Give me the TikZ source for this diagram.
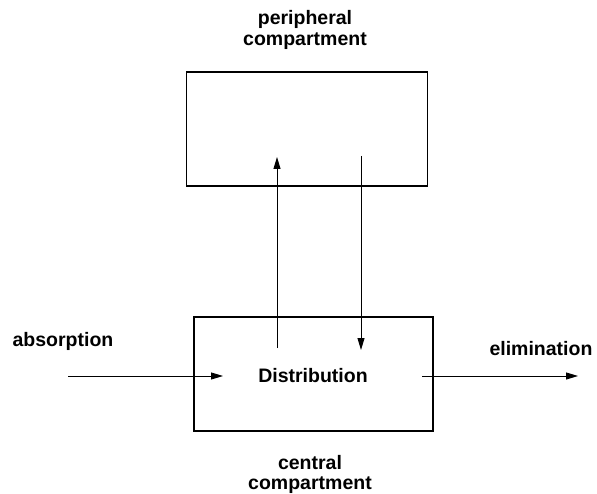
\documentclass[tikz,border=0pt]{standalone}
\usepackage{fontspec}
\setmainfont{Liberation Sans}
\usetikzlibrary{arrows.meta}
\begin{document}
\begin{tikzpicture}[x=1pt,y=-1pt,
  box/.style={draw,line width=1.1pt},
  lbl/.style={font=\bfseries\fontsize{19.5}{22}\selectfont,inner sep=0pt,align=center},
  arr/.style={line width=0.9pt,-{Triangle[length=12pt,width=7pt]}}]
\useasboundingbox (0,0) rectangle (597,494);
\node[box,minimum width=241pt,minimum height=114pt,inner sep=0pt] (per) at (307,129) {};
\node[box,minimum width=239pt,minimum height=114pt,inner sep=0pt] (cen) at (313.5,374) {};
\node[lbl] (dist) at (313,376) {Distribution};
\node[lbl] (pl1) at (305,19) {peripheral};
\node[lbl] (pl2) at (305,41) {compartment};
\node[lbl] (cl1) at (310,463) {central};
\node[lbl] (cl2) at (310,485) {compartment};
\node[lbl] (abs) at (63,341) {absorption};
\node[lbl] (eli) at (541,349) {elimination};
\coordinate (a1) at (277,348);
\coordinate (a2) at (277,157);
\coordinate (b1) at (361,156);
\coordinate (b2) at (361,350);
\coordinate (c1) at (68,376);
\coordinate (c2) at (223,376);
\coordinate (d1) at (422,376);
\coordinate (d2) at (578,376);
\draw[arr] (a1) -- (a2);
\draw[arr] (b1) -- (b2);
\draw[arr] (c1) -- (c2);
\draw[arr] (d1) -- (d2);
\end{tikzpicture}
\end{document}
